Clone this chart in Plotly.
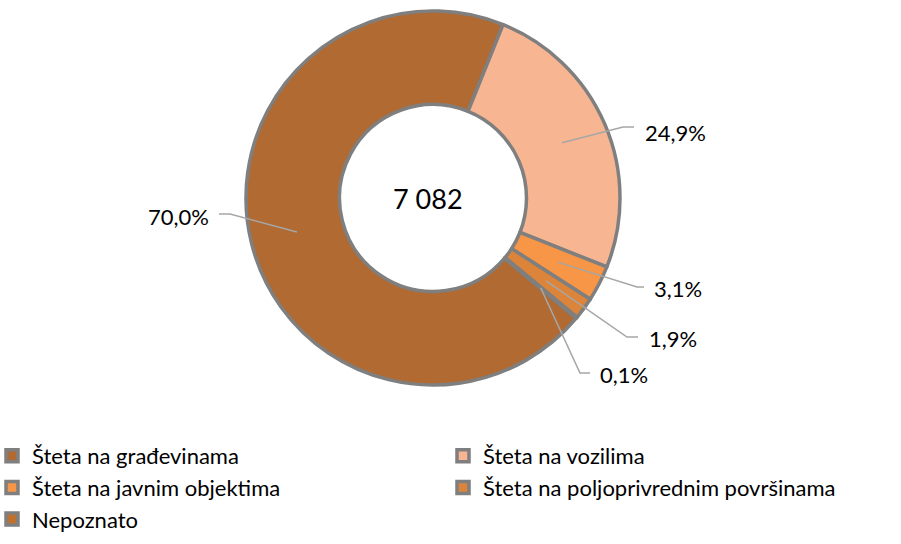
import math
import plotly.graph_objects as go

# ---- data ----
categories = ["Šteta na građevinama", "Šteta na vozilima", "Šteta na javnim objektima",
              "Šteta na poljoprivrednim površinama", "Nepoznato"]
shares = [70.0, 24.9, 3.1, 1.9, 0.1]
share_labels = ["70,0%", "24,9%", "3,1%", "1,9%", "0,1%"]
total_label = "7 082"

# ---- styling / layout ----
colors = ["#B06A32", "#F8B592", "#F79646", "#DC853A", "#C0702F"]
W, H = 901, 544
MB = 110                      # bottom margin reserved for the legend
GW, GH = W, H - MB            # plot-area size in pixels
CX, CY, R = 433, 198, 187
ROTATION = 130
FONT = "Lato"
FS = 22

# label placement (pixels): text x, text y, xanchor, elbow x, elbow y, end x
label_layout = [
    (211, 216, "right", 230, 214, 219),
    (643, 132, "left", 623, 127, 634),
    (652, 288, "left", 637, 287, 644),
    (647, 338, "left", 627, 337, 638),
    (598, 374, "left", 580, 373, 590),
]

def px(x):
    return x / GW

def py(y):
    return 1 - y / GH

fig = go.Figure(go.Pie(
    labels=categories,
    values=shares,
    hole=0.5,
    sort=False,
    direction="clockwise",
    rotation=ROTATION,
    textinfo="none",
    marker=dict(colors=colors, line=dict(color="#7F7F7F", width=3.5)),
    domain=dict(x=[px(CX - R), px(CX + R)], y=[py(CY + R), py(CY - R)]),
    hoverinfo="label+percent",
))

# leader lines and labels, anchored at each slice's mid-angle
total = sum(shares)
cum = 0.0
shapes = []
annotations = []
for v, lab, (tx, ty, xa, ex, ey, endx) in zip(shares, share_labels, label_layout):
    mid = math.radians(ROTATION + (cum + v / 2) / total * 360)
    cum += v
    ax_ = CX + 0.75 * R * math.sin(mid)
    ay_ = CY - 0.75 * R * math.cos(mid)
    shapes.append(dict(
        type="path", xref="paper", yref="paper",
        path=f"M{px(ax_)},{py(ay_)} L{px(ex)},{py(ey)} L{px(endx)},{py(ey)}",
        line=dict(color="#A6A6A6", width=1.5),
    ))
    annotations.append(dict(
        text=lab, x=px(tx), y=py(ty), xref="paper", yref="paper",
        xanchor=xa, yanchor="middle", showarrow=False,
        font=dict(family=FONT, size=FS, color="#000000"),
    ))

annotations.append(dict(
    text=total_label, x=px(CX - 5), y=py(CY), xref="paper", yref="paper",
    xanchor="center", yanchor="middle", showarrow=False,
    font=dict(family=FONT, size=27, color="#000000"),
))

fig.update_layout(
    width=W, height=H,
    margin=dict(l=0, r=0, t=0, b=MB, autoexpand=False),
    paper_bgcolor="white", plot_bgcolor="white",
    font=dict(family=FONT, size=FS, color="#000000"),
    shapes=shapes,
    annotations=annotations,
    showlegend=True,
    legend=dict(
        orientation="h", x=px(-8), xanchor="left", y=py(435), yanchor="top",
        entrywidth=406, entrywidthmode="pixels",
        font=dict(family=FONT, size=FS, color="#000000"),
        itemwidth=30, traceorder="normal",
    ),
)

fig.write_html("out.html", config={"displayModeBar": False},
               post_script="document.body.style.margin='0';")
